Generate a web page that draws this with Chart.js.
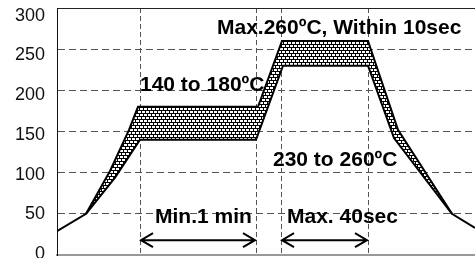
<!DOCTYPE html>
<html><head><meta charset="utf-8">
<script src="https://cdn.jsdelivr.net/npm/chart.js@4/dist/chart.umd.min.js"></script>
<style>html,body{margin:0;padding:0;background:#fff}</style>
</head><body>
<canvas id="c" width="475" height="258"></canvas>
<script>
// ---- data ----
const yTickValues = [0, 50, 100, 150, 200, 250, 300];
const markerTimes = [83, 199, 224, 311];          // vertical dashed lines (time units)
const upperTimes = [0, 29, 53, 72, 81, 201, 225, 311, 341, 395, 418];
const upperTemps = [29, 50, 102, 152, 180, 180, 260, 260, 152, 50, 33];
const lowerTimes = [29, 58, 83, 199, 226, 311, 337, 395];
const lowerTemps = [50, 94, 140, 140, 230, 230, 142, 50];
const noteTexts = ['Max.260\u00BAC, Within 10sec', '140 to 180\u00BAC', '230 to 260\u00BAC', 'Min.1 min', 'Max. 40sec'];
const arrowSpans = [[0, 1], [2, 3]];             // indexes into markerTimes

// ---- placement / styling (not data) ----
const notePlacement = [
  {x: 160, y: 268}, {x: 83, y: 199.5}, {x: 216, y: 108}, {x: 98, y: 39}, {x: 230, y: 39}
];
const arrowLevel = 18;
const FONT = '"Liberation Sans", Arial, sans-serif';

const upper = upperTimes.map((t, i) => ({x: t, y: upperTemps[i]}));
const lower = lowerTimes.map((t, i) => ({x: t, y: lowerTemps[i]}));
const band = upper.slice(1, -1).concat(lower.slice().reverse());

function makePattern() {
  const c = document.createElement('canvas');
  c.width = 8; c.height = 6;
  const g = c.getContext('2d');
  g.fillStyle = '#000'; g.fillRect(0, 0, 8, 6);
  g.fillStyle = '#fff';
  g.fillRect(0, 0, 3, 2); g.fillRect(4, 0, 3, 2);
  g.fillRect(2, 3, 3, 2); g.fillRect(6, 3, 2, 2); g.fillRect(0, 3, 1, 2);
  return document.getElementById('c').getContext('2d').createPattern(c, 'repeat');
}

const notesPlugin = {
  id: 'notes',
  afterDatasetsDraw(chart) {
    const {ctx, scales: {x, y}} = chart;
    ctx.save();
    ctx.fillStyle = '#000';
    ctx.font = 'bold 21px ' + FONT;
    ctx.textAlign = 'left';
    ctx.textBaseline = 'alphabetic';
    noteTexts.forEach((t, i) => {
      ctx.fillText(t, x.getPixelForValue(notePlacement[i].x), y.getPixelForValue(notePlacement[i].y));
    });
    ctx.strokeStyle = '#000';
    ctx.lineWidth = 2;
    const py = y.getPixelForValue(arrowLevel);
    arrowSpans.forEach(([a, b]) => {
      const x1 = x.getPixelForValue(markerTimes[a]) + 1;
      const x2 = x.getPixelForValue(markerTimes[b]) - 1;
      ctx.beginPath();
      ctx.moveTo(x1, py); ctx.lineTo(x2, py);
      ctx.moveTo(x1 + 12, py - 7); ctx.lineTo(x1, py); ctx.lineTo(x1 + 12, py + 7);
      ctx.moveTo(x2 - 12, py - 7); ctx.lineTo(x2, py); ctx.lineTo(x2 - 12, py + 7);
      ctx.stroke();
    });
    ctx.restore();
  }
};

new Chart(document.getElementById('c'), {
  type: 'scatter',
  data: {
    datasets: [
      {data: band, showLine: true, fill: 'shape', backgroundColor: makePattern(), borderWidth: 0, pointRadius: 0, order: 3},
      {data: upper, showLine: true, fill: false, borderColor: '#000', borderWidth: 2, pointRadius: 0, order: 1},
      {data: lower, showLine: true, fill: false, borderColor: '#000', borderWidth: 2, pointRadius: 0, order: 2}
    ]
  },
  options: {
    responsive: false,
    animation: false,
    events: [],
    layout: {padding: {left: 0, top: 8, right: 0, bottom: 3}},
    plugins: {legend: {display: false}, tooltip: {enabled: false}},
    scales: {
      x: {
        type: 'linear', position: 'bottom', min: 0, max: 418,
        afterBuildTicks: s => { s.ticks = markerTimes.map(v => ({value: v})); },
        ticks: {display: false},
        grid: {color: '#555', lineWidth: 1, drawTicks: false},
        border: {display: true, color: '#999', width: 2, dash: [5, 3]}
      },
      xTop: {
        type: 'linear', position: 'top', min: 0, max: 418,
        ticks: {display: false},
        grid: {display: false, drawTicks: false},
        border: {display: true, color: '#222', width: 1}
      },
      y: {
        type: 'linear', position: 'left', weight: 0, min: 0, max: 300,
        afterBuildTicks: s => { s.ticks = yTickValues.map(v => ({value: v})); },
        ticks: {display: false},
        grid: {
          drawTicks: false, lineWidth: 1,
          color: c => (c.tick && (c.tick.value === 0 || c.tick.value === 300)) ? 'rgba(0,0,0,0)' : '#555'
        },
        border: {display: true, color: '#111', width: 1, dash: [7, 4]},
        afterFit: s => { s.width = 0; s.paddingTop = 0; s.paddingBottom = 0; }
      },
      yLabels: {
        type: 'linear', position: 'left', weight: 1, min: -1.26, max: 309.7,
        afterBuildTicks: s => { s.ticks = yTickValues.map(v => ({value: v})); },
        ticks: {display: true, padding: 12, color: '#111', font: {family: FONT, size: 18}},
        grid: {display: false, drawTicks: false},
        border: {display: false},
        afterFit: s => { s.width = 57; s.paddingTop = 0; s.paddingBottom = 0; }
      }
    }
  },
  plugins: [notesPlugin]
});
</script>
</body></html>
